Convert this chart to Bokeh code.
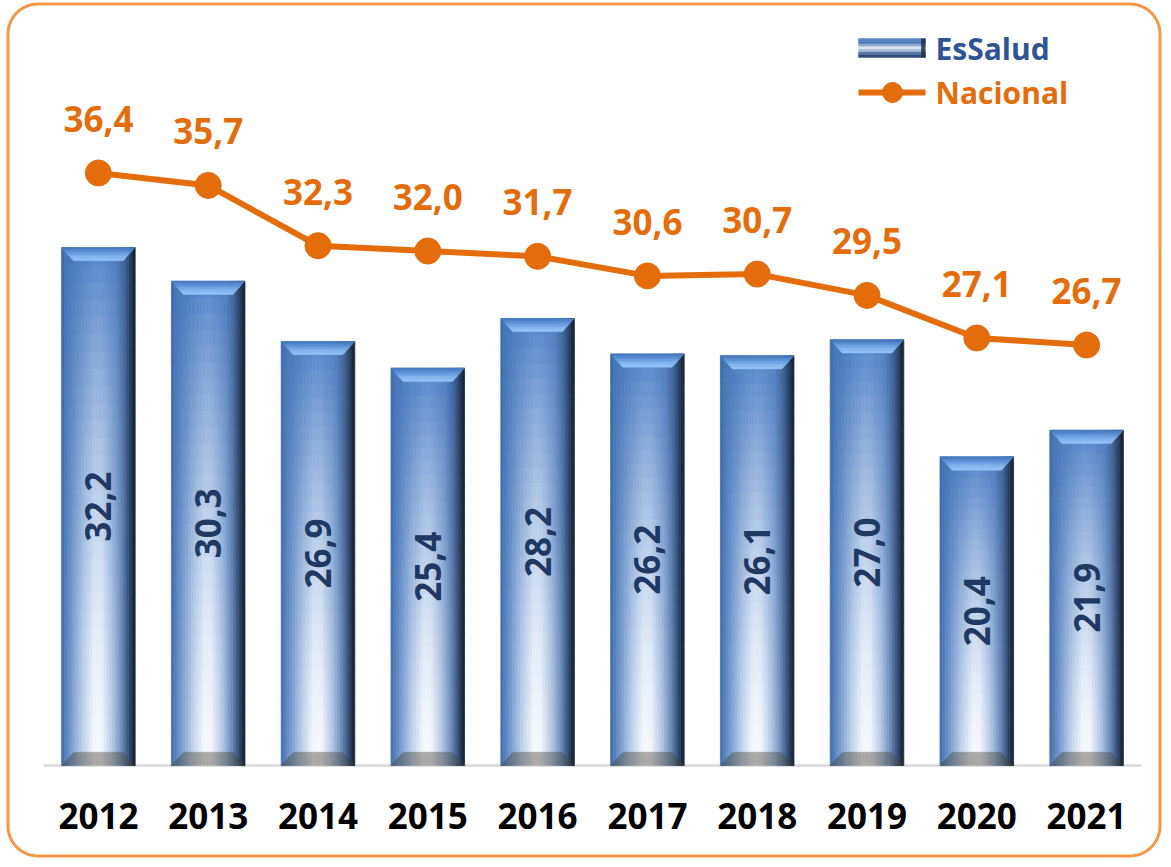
import numpy as np
from bokeh.plotting import figure
from bokeh.models import FixedTicker, Range1d, ColumnDataSource
from bokeh.core.properties import value
from bokeh.embed import file_html
from bokeh.resources import INLINE

# ---------------- data ----------------
years = ["2012", "2013", "2014", "2015", "2016", "2017", "2018", "2019", "2020", "2021"]
essalud = [32.2, 30.3, 26.9, 25.4, 28.2, 26.2, 26.1, 27.0, 20.4, 21.9]
nacional = [36.4, 35.7, 32.3, 32.0, 31.7, 30.6, 30.7, 29.5, 27.1, 26.7]
series_names = ["EsSalud", "Nacional"]

def fmt(v):
    return f"{v:.1f}".replace(".", ",")

FONT = value("Open Sans")
ORANGE = "#E46C0A"
NAVY = "#1F3864"
BLUE_TXT = "#2F5496"

W, H = 1163, 859
Y0 = 3                       # value axis baseline
PX_PER_CAT, PX_PER_UNIT = 109.8, 17.74
LEFT_PX, BASE_PX = 43, 765   # where the category band starts / baseline sits

def px2x(px):
    return (px - LEFT_PX) / PX_PER_CAT - 0.5

def py2y(py):
    return Y0 + (BASE_PX - py) / PX_PER_UNIT

p = figure(width=W, height=H, output_backend="svg", toolbar_location=None,
           x_range=Range1d(px2x(0), px2x(W)), y_range=Range1d(py2y(H), py2y(0)),
           y_axis_location=None, min_border=0)
p.outline_line_color = None
p.background_fill_color = "white"
p.border_fill_color = "white"
p.xgrid.visible = False
p.ygrid.visible = False

ax = p.xaxis[0]
ax.fixed_location = Y0
ax.ticker = FixedTicker(ticks=list(range(len(years))))
ax.major_label_overrides = {i: y for i, y in enumerate(years)}
ax.major_label_text_font = "Open Sans"
ax.major_label_text_font_style = "bold"
ax.major_label_text_font_size = "35px"
ax.major_label_text_color = "black"
ax.major_tick_line_color = None
ax.minor_tick_line_color = None
ax.axis_line_color = None
ax.major_label_standoff = 31

# rounded orange frame around the chart
def rounded_rect(l, r, t, b, rad, n=16):
    pts = []
    corners = [(r - rad, t + rad, -np.pi / 2, 0), (r - rad, b - rad, 0, np.pi / 2),
               (l + rad, b - rad, np.pi / 2, np.pi), (l + rad, t + rad, np.pi, 1.5 * np.pi)]
    for cx, cy, a0, a1 in corners:
        for a in np.linspace(a0, a1, n):
            pts.append((cx + rad * np.cos(a), cy + rad * np.sin(a)))
    pts.append(pts[0])
    return [px2x(x) for x, _ in pts], [py2y(y) for _, y in pts]

bx, by = rounded_rect(7.5, W - 3.5, 3.5, H - 3.5, 30)
p.line(bx, by, line_color="#F79646", line_width=3)

# baseline
p.line(x=[-0.5, len(years) - 0.5], y=[Y0, Y0], line_color="#D9D9D9", line_width=2.5)

# ---------------- gradient helpers ----------------
def hex2rgb(h):
    h = h.lstrip("#")
    return np.array([int(h[i:i + 2], 16) for i in (0, 2, 4)], dtype=float)

def rgb2hex(c):
    c = np.clip(np.round(c), 0, 255).astype(int)
    return "#%02x%02x%02x" % tuple(c)

def profile(stops, t):
    ts = [s[0] for s in stops]
    cs = np.array([hex2rgb(s[1]) for s in stops])
    return np.array([np.interp(t, ts, cs[:, k]) for k in range(3)])

PROF_TOP = [(0.0, "#3b69a8"), (0.06, "#4676b8"), (0.5, "#5687cc"), (0.75, "#4e7dbf"),
            (0.86, "#3d6399"), (0.93, "#2a4469"), (1.0, "#141e2e")]
PROF_BOT = [(0.0, "#3f6cab"), (0.12, "#6f96cb"), (0.3, "#c3d5ec"), (0.45, "#f7fafd"),
            (0.55, "#f5f8fc"), (0.7, "#b3c8e4"), (0.82, "#6f8fbd"), (0.92, "#34507a"),
            (1.0, "#151d2b")]

BW = 0.67          # bar width (category fraction)
NS, NR = 26, 30    # strips across, rows up
BEV_Y = 0.75       # bevel height (data units)
BEV_X = 0.11       # bevel width (x units)

L, R, B, T, C = [], [], [], [], []
for i, v in enumerate(essalud):
    left0 = i - BW / 2
    for s in range(NS):
        t = (s + 0.5) / NS
        ca = profile(PROF_TOP, t)
        cb = profile(PROF_BOT, t)
        for r in range(NR):
            yf = (r + 0.5) / NR
            w = 1 - yf ** 1.6
            col = ca * (1 - w) + cb * w
            L.append(left0 + s * BW / NS)
            R.append(left0 + (s + 1) * BW / NS)
            B.append(Y0 + (v - Y0) * r / NR)
            T.append(Y0 + (v - Y0) * (r + 1) / NR)
            C.append(rgb2hex(col))

bars = ColumnDataSource(dict(left=L, right=R, bottom=B, top=T, color=C))
p.quad(left="left", right="right", bottom="bottom", top="top", source=bars,
       fill_color="color", line_color="color", line_width=0.8)

# bottom bevel trapezoids
bxs, bys, bcs = [], [], []
for i, v in enumerate(essalud):
    l, r = i - BW / 2, i + BW / 2
    inner_l, inner_r = l + BEV_X, r - BEV_X
    for s in range(NS):
        x0 = l + s * BW / NS
        x1 = l + (s + 1) * BW / NS
        t = (s + 0.5) / NS
        cb = profile(PROF_BOT, t)
        dark = cb * 0.55 + hex2rgb("#4a4438") * 0.45
        def h_at(x):
            if x < inner_l:
                return BEV_Y * (x - l) / BEV_X
            if x > inner_r:
                return BEV_Y * (r - x) / BEV_X
            return BEV_Y
        bxs.append([x0, x1, x1, x0])
        bys.append([Y0, Y0, Y0 + h_at(x1), Y0 + h_at(x0)])
        bcs.append(rgb2hex(dark))
p.patches(xs="xs", ys="ys", source=ColumnDataSource(dict(xs=bxs, ys=bys, color=bcs)),
          fill_color="color", line_color="color", line_width=0.5)

# top bevel trapezoids
bev_cols = ["#4a7cc0", "#5a8ed2", "#6ea2e2", "#82b4ee", "#8fc0f5"]
xs, ys, cs = [], [], []
for i, v in enumerate(essalud):
    l, r = i - BW / 2, i + BW / 2
    nb = len(bev_cols)
    for k in range(nb):
        a0, a1 = k / nb, (k + 1) / nb
        xs.append([l + BEV_X * a0, r - BEV_X * a0, r - BEV_X * a1, l + BEV_X * a1])
        ys.append([v - BEV_Y * a0, v - BEV_Y * a0, v - BEV_Y * a1, v - BEV_Y * a1])
        cs.append(bev_cols[k])
p.patches(xs="xs", ys="ys", source=ColumnDataSource(dict(xs=xs, ys=ys, color=cs)),
          fill_color="color", line_color="color", line_width=0.5)

# bar value labels (rotated)
xi = list(range(len(years)))
bl = ColumnDataSource(dict(x=xi, y=[(Y0 + v) / 2 for v in essalud],
                           t=[fmt(v) for v in essalud]))
p.text(x="x", y="y", text="t", source=bl, angle=np.pi / 2, text_align="center",
       text_baseline="middle", text_font=FONT, text_font_style="bold",
       text_font_size="35px", text_color=NAVY)

# ---------------- Nacional line ----------------
ln = ColumnDataSource(dict(x=xi, y=nacional, t=[fmt(v) for v in nacional]))
p.line(x="x", y="y", source=ln, line_color=ORANGE, line_width=6)
p.scatter(x="x", y="y", source=ln, size=26, fill_color=ORANGE, line_color=ORANGE)
p.text(x="x", y="y", text="t", source=ln, y_offset=-54, text_align="center",
       text_baseline="middle", text_font=FONT, text_font_style="bold",
       text_font_size="35px", text_color=ORANGE)

# ---------------- legend (custom) ----------------
sw_l, sw_r = px2x(858), px2x(925)
sw_cols = ["#5b86c0", "#4a78b8", "#8eaad2", "#dfe7f2", "#a8bcd8", "#5a78a6", "#34507a"]
ntop, nbot = py2y(38), py2y(57)
n = len(sw_cols)
p.quad(left=[sw_l] * n, right=[sw_r] * n,
       top=[ntop - (ntop - nbot) * k / n for k in range(n)],
       bottom=[ntop - (ntop - nbot) * (k + 1) / n for k in range(n)],
       fill_color=sw_cols, line_color=sw_cols, line_width=0.5)
p.quad(left=[sw_r - 0.04], right=[sw_r], top=[ntop], bottom=[nbot],
       fill_color="#1c2a40", line_color=None, fill_alpha=0.8)
p.text(x=[px2x(935)], y=[py2y(48)], text=[series_names[0]], text_baseline="middle",
       text_font=FONT, text_font_style="bold", text_font_size="30px", text_color=BLUE_TXT)

ly = py2y(92)
p.line(x=[px2x(858), px2x(925)], y=[ly, ly], line_color=ORANGE, line_width=6)
p.scatter(x=[px2x(892)], y=[ly], size=20, fill_color=ORANGE, line_color=ORANGE)
p.text(x=[px2x(935)], y=[ly], text=[series_names[1]], text_baseline="middle",
       text_font=FONT, text_font_style="bold", text_font_size="30px", text_color=ORANGE)

open("out.html", "w").write(file_html(p, INLINE))
